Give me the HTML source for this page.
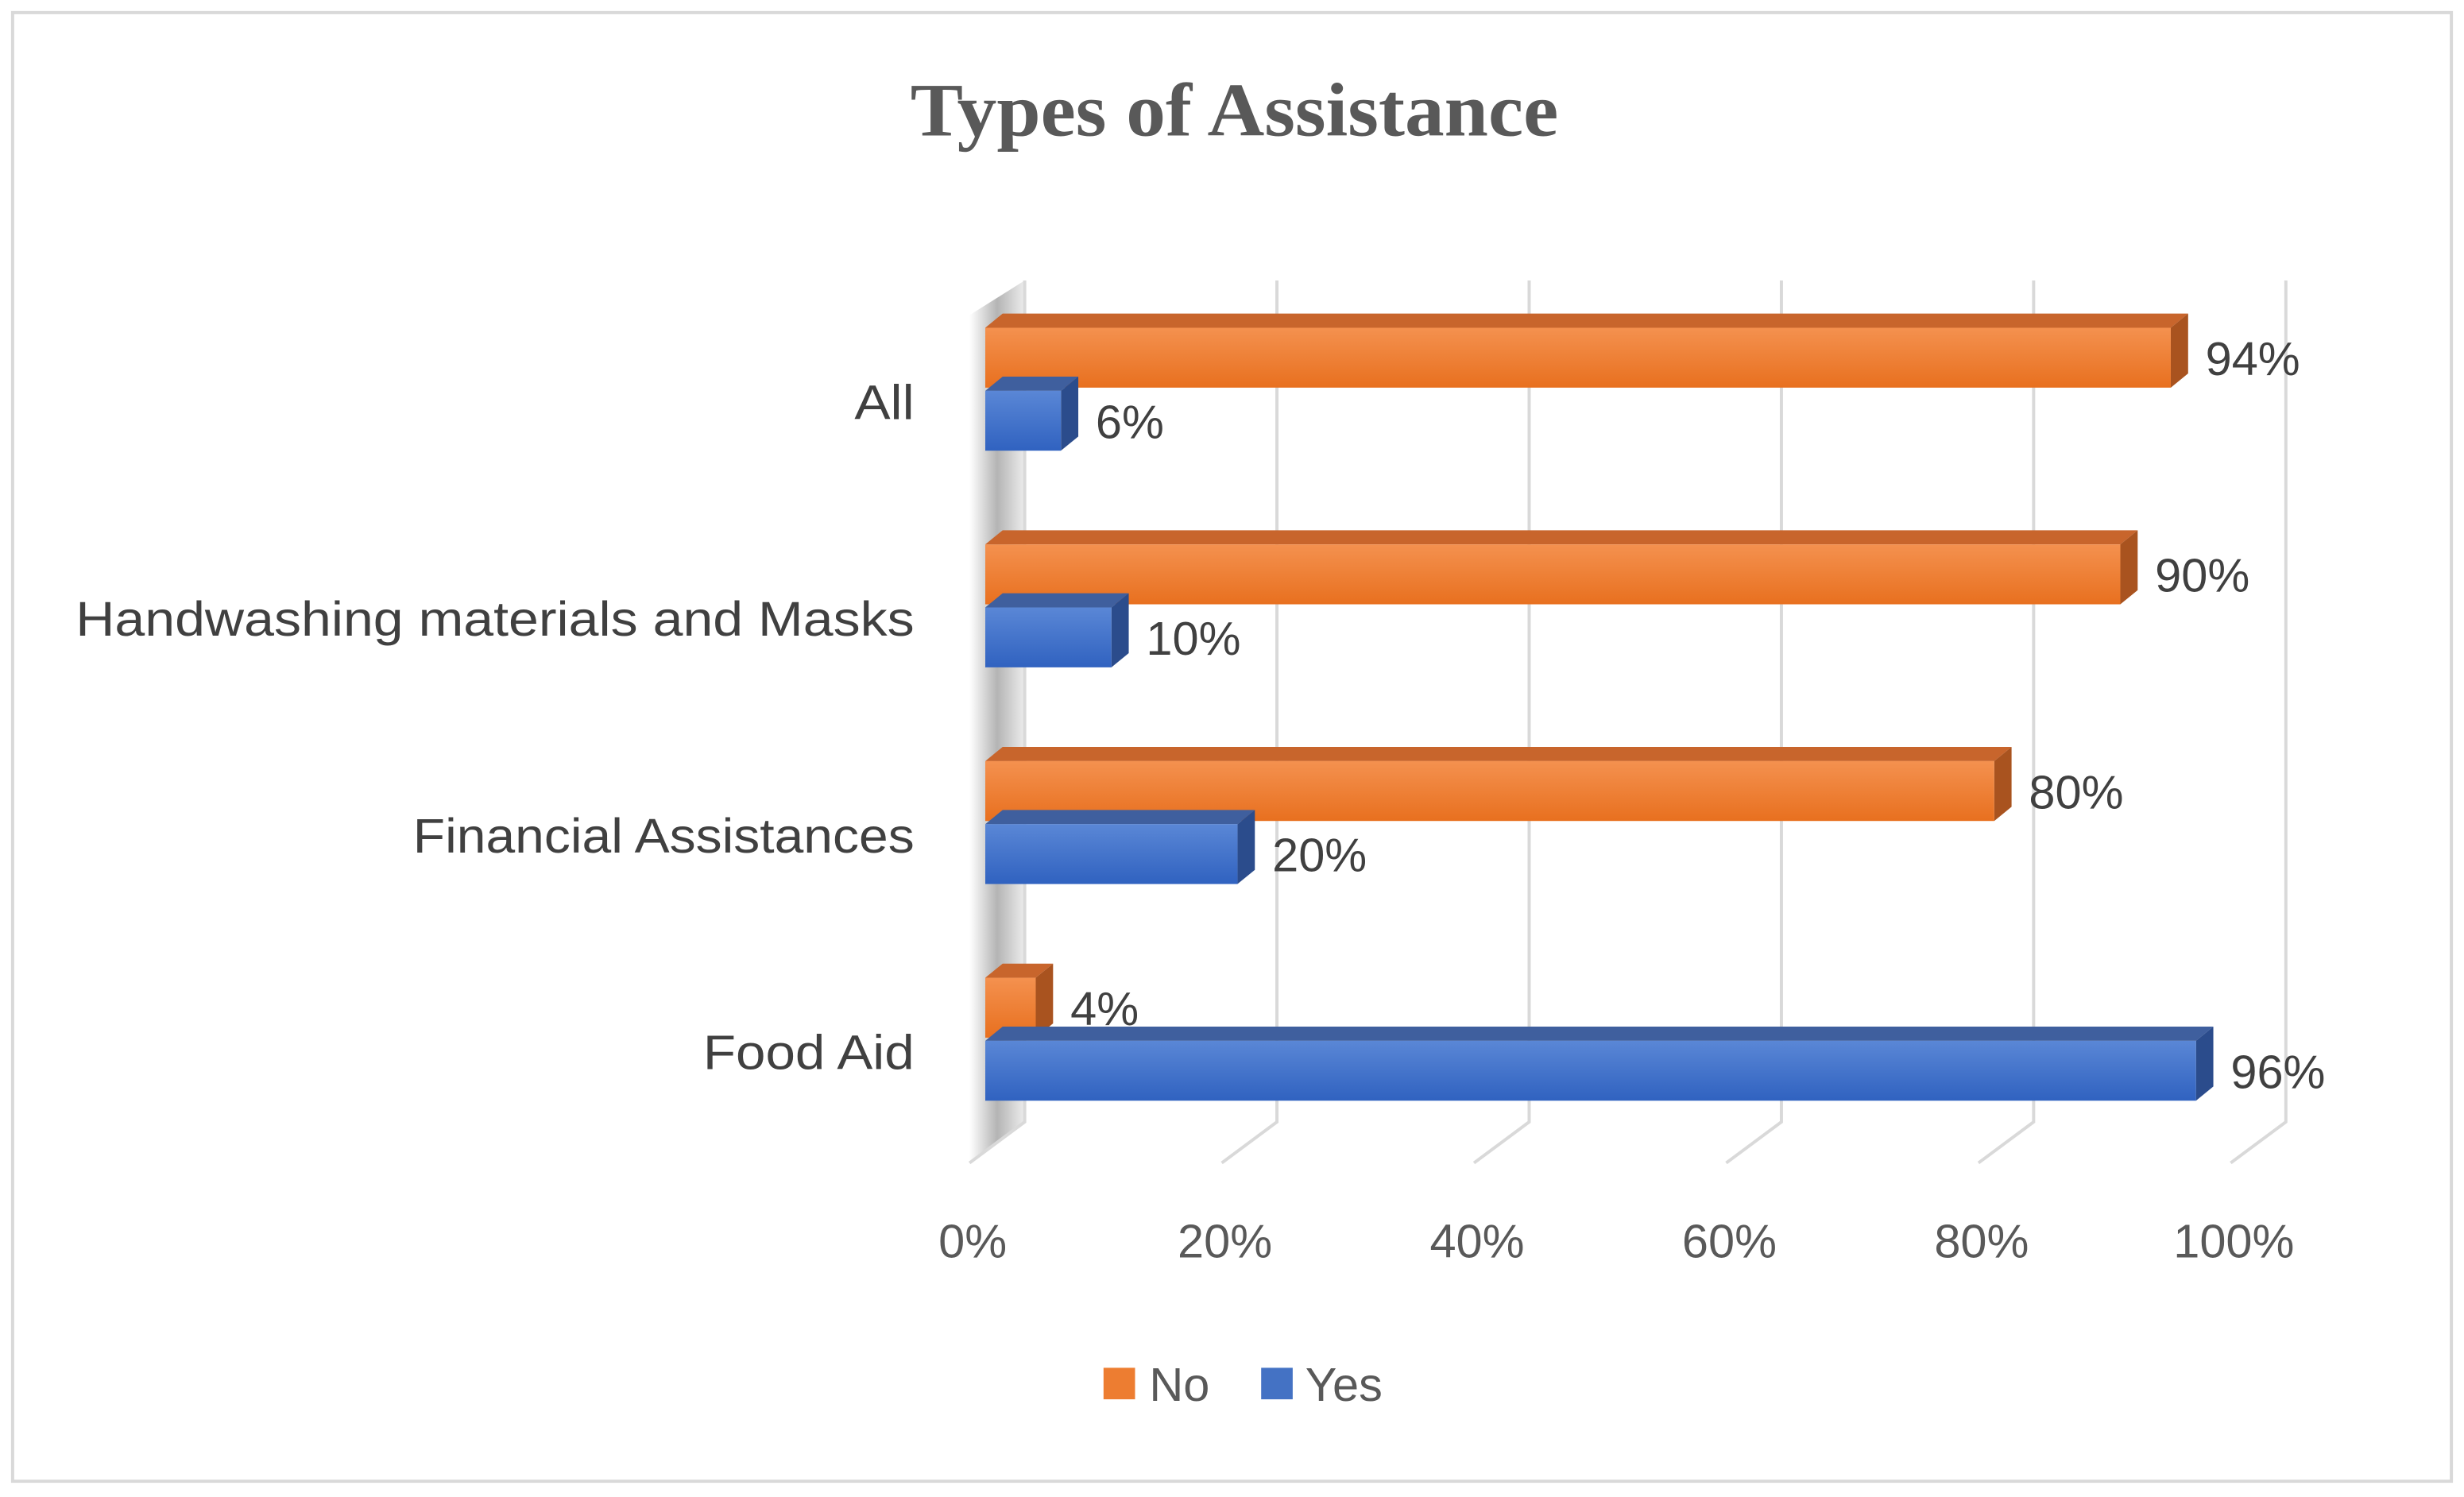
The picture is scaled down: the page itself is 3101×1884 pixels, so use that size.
<!DOCTYPE html>
<html><head><meta charset="utf-8"><style>
html,body{margin:0;padding:0;background:#fff;}
svg{display:block;}
text{font-family:"Liberation Sans",sans-serif;}
</style></head><body>
<svg id="chart" width="3101" height="1884" viewBox="0 0 1563 950" preserveAspectRatio="none" xmlns="http://www.w3.org/2000/svg">
<defs>
<linearGradient id="gO" x1="0" y1="0" x2="0" y2="1"><stop offset="0" stop-color="#F4914F"/><stop offset="1" stop-color="#E8701F"/></linearGradient>
<linearGradient id="gB" x1="0" y1="0" x2="0" y2="1"><stop offset="0" stop-color="#5A87D6"/><stop offset="1" stop-color="#3062C0"/></linearGradient>
<linearGradient id="wall" x1="0" y1="0" x2="1" y2="0"><stop offset="0" stop-color="#fff"/><stop offset="0.5" stop-color="#777"/><stop offset="1" stop-color="#ddd"/></linearGradient>
</defs>
<rect x="8" y="8" width="1547" height="932" fill="#fff" stroke="#d9d9d9" stroke-width="2"/>
<text x="783" y="86" text-anchor="middle" font-weight="bold" font-size="48" fill="#595959" textLength="411" lengthAdjust="spacingAndGlyphs" style="font-family:'Liberation Serif',serif">Types of Assistance</text>
<g id="grid"></g>
<g id="bars"></g>
<g id="labels"></g>
<g>
<rect x="700" y="868" width="20" height="20" fill="#ED7D31"/>
<text x="729" y="889" font-size="30" fill="#595959">No</text>
<rect x="800" y="868" width="20" height="20" fill="#4472C4"/>
<text x="828" y="889" font-size="30" fill="#595959">Yes</text>
</g>
</svg>
<script>
const categories = ["All","Handwashing materials and Masks","Financial Assistances","Food Aid"];
const noValues = [94, 90, 80, 4];
const yesValues = [6, 10, 20, 96];
const tickValues = [0, 20, 40, 60, 80, 100];
const tickLabels = ["0%","20%","40%","60%","80%","100%"];
const labelWidths = [38, 532, 318, 134];

const NS = "http://www.w3.org/2000/svg";
const x0 = 625, scale = 8.0, dx = 11, dy = 9;
const catTop = 208, pitch = 137.5, barH = 38, gap = 2;
function xs(v){ return x0 + v * scale; }
function mk(tag, attrs, parent){ const e=document.createElementNS(NS,tag); for(const k in attrs) e.setAttribute(k,attrs[k]); parent.appendChild(e); return e; }

const grid = document.getElementById('grid');
const wall = mk('polygon',{points:`615,738 615,200 650,178 650,712`,fill:'url(#wall)',opacity:'0.55'},grid);


tickValues.forEach((t,i)=>{
  const fx = xs(t) - 10, bx = fx + 35;
  const g = mk('polyline',{points:`${fx},738 ${bx},712 ${bx},178`,fill:'none',stroke:'#d9d9d9','stroke-width':'2'},grid);
  
  
  const tl = mk('text',{x:fx+2,y:798,'text-anchor':'middle','font-size':'30',fill:'#595959'},grid);
  tl.textContent = tickLabels[i];
  
  
});

const bars = document.getElementById('bars'), labels = document.getElementById('labels');
function bar3d(v, y, front, top, side, name){
  const g = mk('g',{},bars);
  
  
  const xe = xs(v);
  mk('polygon',{points:`${x0},${y} ${x0+dx},${y-dy} ${xe+dx},${y-dy} ${xe},${y}`,fill:top},g);
  mk('polygon',{points:`${xe},${y} ${xe+dx},${y-dy} ${xe+dx},${y+barH-dy} ${xe},${y+barH}`,fill:side},g);
  mk('rect',{x:x0,y:y,width:Math.max(0,xe-x0),height:barH,fill:front},g);
  return xe;
}
categories.forEach((c,i)=>{
  const yNo = catTop + i*pitch, yYes = yNo + barH + gap;
  const eNo = bar3d(noValues[i], yNo, 'url(#gO)', '#C8652C', '#A9531F', 'bar-no-'+i);
  const eYes = bar3d(yesValues[i], yYes, 'url(#gB)', '#3F5F9E', '#2B4C8C', 'bar-yes-'+i);
  const ln = mk('text',{x:eNo+22,y:yNo+barH/2+11,'font-size':'30',fill:'#404040'},labels);
  ln.textContent = noValues[i]+'%';
  
  
  const ly = mk('text',{x:eYes+22,y:yYes+barH/2+11,'font-size':'30',fill:'#404040'},labels);
  ly.textContent = yesValues[i]+'%';
  
  
  const cl = mk('text',{x:580,y:yNo+barH+20,'text-anchor':'end','font-size':'31',fill:'#404040',textLength:labelWidths[i],lengthAdjust:'spacingAndGlyphs'},labels);
  cl.textContent = c;
  
  
});
</script>
</body></html>
